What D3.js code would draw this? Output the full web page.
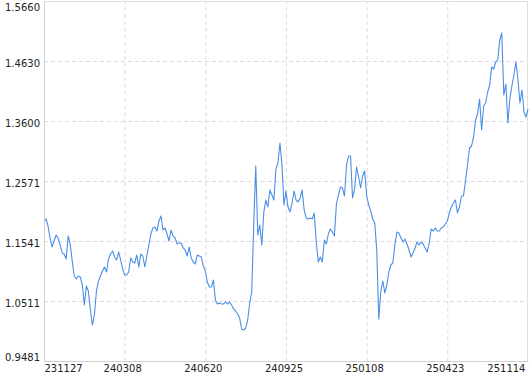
<!DOCTYPE html>
<html>
<head>
<meta charset="utf-8">
<script src="https://cdn.jsdelivr.net/npm/d3@7/dist/d3.min.js"></script>
<style>
  html, body { margin: 0; padding: 0; background: #fff; }
  svg { display: block; }
  text { font-family: "DejaVu Sans", Verdana, sans-serif; font-size: 10px; fill: #222; }
</style>
</head>
<body>
<svg id="chart" width="530" height="374"></svg>
<script>
// ---- data ----
const tickLabels = ["231127", "240308", "240620", "240925", "250108", "250423", "251114"];
const yTicks = [0.9481, 1.0511, 1.1541, 1.2571, 1.3600, 1.4630, 1.5660];
const values = [
  1.1884, 1.1918, 1.1798, 1.1592, 1.1438, 1.1541, 1.1644, 1.1592, 1.1472, 1.1335,
  1.1318, 1.1232, 1.1627, 1.1489, 1.1197, 1.0940, 1.0888, 1.0940, 1.0923, 1.0786,
  1.0442, 1.0768, 1.0682, 1.0356, 1.0099, 1.0271, 1.0682, 1.0854, 1.0940, 1.1026,
  1.1094, 1.1009, 1.1232, 1.1318, 1.1369, 1.1266, 1.1215, 1.1352, 1.1215, 1.1060,
  1.0957, 1.0957, 1.1009, 1.1249, 1.1180, 1.1163, 1.1300, 1.1094, 1.1318, 1.1283,
  1.1094, 1.1283, 1.1472, 1.1661, 1.1764, 1.1781, 1.1712, 1.1884, 1.1970, 1.1730,
  1.1764, 1.1661, 1.1541, 1.1730, 1.1627, 1.1592, 1.1489, 1.1506, 1.1506, 1.1421,
  1.1386, 1.1283, 1.1438, 1.1249, 1.1180, 1.1146, 1.1300, 1.1283, 1.1266, 1.1112,
  1.1026, 1.0837, 1.0751, 1.0751, 1.0871, 1.0528, 1.0459, 1.0477, 1.0459, 1.0459,
  1.0494, 1.0459, 1.0494, 1.0442, 1.0374, 1.0339, 1.0288, 1.0219, 1.0030, 1.0013,
  1.0047, 1.0185, 1.0477, 1.0665, 1.1815, 1.2828, 1.1644, 1.1815, 1.1472, 1.2039,
  1.2244, 1.2124, 1.2416, 1.2330, 1.2244, 1.2777, 1.2880, 1.3223, 1.2845, 1.2159,
  1.2399, 1.2124, 1.2039, 1.2193, 1.2399, 1.2244, 1.2210, 1.2279, 1.2416, 1.2073,
  1.1936, 1.1918, 1.1936, 1.1918, 1.2021, 1.1524, 1.1180, 1.1266, 1.1180, 1.1558,
  1.1489, 1.1661, 1.1747, 1.1695, 1.1627, 1.2176, 1.2330, 1.2468, 1.2450, 1.2313,
  1.2845, 1.3000, 1.3000, 1.2279, 1.2433, 1.2811, 1.2639, 1.2450, 1.2656, 1.2742,
  1.2313, 1.2159, 1.2056, 1.1918, 1.1850, 1.1386, 1.0202, 1.0682, 1.0854, 1.0648,
  1.0786, 1.1009, 1.1129, 1.1163, 1.1489, 1.1695, 1.1678, 1.1592, 1.1524, 1.1575,
  1.1489, 1.1386, 1.1266, 1.1335, 1.1421, 1.1524, 1.1472, 1.1524, 1.1489, 1.1421,
  1.1352, 1.1506, 1.1747, 1.1712, 1.1764, 1.1712, 1.1712, 1.1764, 1.1781, 1.1832,
  1.1884, 1.2021, 1.2124, 1.2193, 1.2244, 1.2021, 1.2124, 1.2313, 1.2313, 1.2571,
  1.2845, 1.3137, 1.3171, 1.3326, 1.3618, 1.3721, 1.3978, 1.3446, 1.3858, 1.3909,
  1.4098, 1.4218, 1.4527, 1.4493, 1.4613, 1.4647, 1.4991, 1.5111, 1.4047, 1.4235,
  1.3566, 1.3978, 1.4201, 1.4390, 1.4613, 1.4321, 1.3909, 1.4132, 1.3755, 1.3669,
  1.3806
];

// ---- layout ----
const L = 44, R = 528, T = 1, B = 361;
const svg = d3.select("#chart");
svg.append("rect").attr("width", 530).attr("height", 374).attr("fill", "#fff");

const n = values.length;
const x = d3.scaleLinear().domain([0, n - 1]).range([L, R]);
const y = d3.scaleLinear().domain([yTicks[0], yTicks[yTicks.length - 1]]).range([B, T]);
const tickIdx = tickLabels.map((_, i) => i * (n - 1) / (tickLabels.length - 1));

// grid
const gridY = svg.append("g").attr("transform", `translate(${L},0)`)
  .call(d3.axisLeft(y).tickValues(yTicks.slice(1, -1)).tickSize(-(R - L)).tickFormat(""));
gridY.select(".domain").remove();
gridY.selectAll("line").attr("stroke", "#dcdcdc").attr("stroke-dasharray", "4,3");

const gridX = svg.append("g").attr("transform", `translate(0,${B})`)
  .call(d3.axisBottom(x).tickValues(tickIdx.slice(1, -1)).tickSize(-(B - T)).tickFormat(""));
gridX.select(".domain").remove();
gridX.selectAll("line").attr("stroke", "#dcdcdc").attr("stroke-dasharray", "4,3");

// frame top/right
svg.append("line").attr("x1", L).attr("x2", R).attr("y1", T + 0.5).attr("y2", T + 0.5)
  .attr("stroke", "#e0e0e0");
svg.append("line").attr("x1", R - 0.5).attr("x2", R - 0.5).attr("y1", T).attr("y2", B)
  .attr("stroke", "#e0e0e0");

// line
const line = d3.line().x((d, i) => x(i)).y(d => y(d));
svg.append("path").datum(values)
  .attr("fill", "none").attr("stroke", "#4a8fe6").attr("stroke-width", 1.1)
  .attr("stroke-linejoin", "round")
  .attr("d", line);

// y axis
const yAxis = svg.append("g").attr("transform", `translate(${L},0)`)
  .call(d3.axisLeft(y).tickValues(yTicks).tickFormat(d => d.toFixed(4)).tickSize(0).tickPadding(4));
yAxis.select(".domain").attr("stroke", "#cfcfcf");
yAxis.selectAll("text").attr("fill", "#222")
  .attr("font-family", "DejaVu Sans, Verdana, sans-serif").attr("font-size", 10)
  .attr("dy", (d, i) => i === 0 ? "-0.1em" : (i === yTicks.length - 1 ? "0.9em" : "0.57em"));

// x axis
const xAxis = svg.append("g").attr("transform", `translate(0,${B})`)
  .call(d3.axisBottom(x).tickValues(tickIdx).tickFormat((d, i) => tickLabels[i]).tickSize(0).tickPadding(3.6));
xAxis.select(".domain").attr("stroke", "#cfcfcf");
xAxis.selectAll("text").attr("fill", "#222")
  .attr("font-family", "DejaVu Sans, Verdana, sans-serif").attr("font-size", 10)
  .attr("text-anchor", (d, i) => i === 0 ? "start" : (i === tickLabels.length - 1 ? "end" : "middle"))
  .attr("dx", (d, i) => i === 0 ? 0 : (i === tickLabels.length - 1 ? -3 : -2.5));
</script>
</body>
</html>
